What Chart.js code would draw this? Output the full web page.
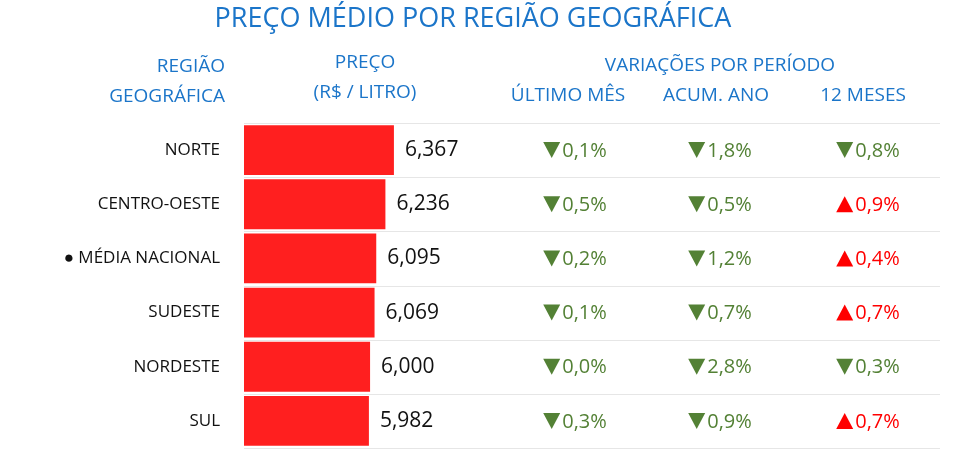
<!DOCTYPE html>
<html><head><meta charset="utf-8">
<script src="https://cdn.jsdelivr.net/npm/chart.js@4/dist/chart.umd.min.js"></script>
<style>html,body{margin:0;padding:0;background:#fff}#w{width:964px;height:474px}</style>
</head><body><div id="w"><canvas id="c"></canvas></div>
<script>
const categories = ["NORTE","CENTRO-OESTE","● MÉDIA NACIONAL","SUDESTE","NORDESTE","SUL"];
const prices = [6.367,6.236,6.095,6.069,6.000,5.982];
const priceLabels = ["6,367","6,236","6,095","6,069","6,000","5,982"];
const varMes = ["▼0,1%","▼0,5%","▼0,2%","▼0,1%","▼0,0%","▼0,3%"];
const varAno = ["▼1,8%","▼0,5%","▼1,2%","▼0,7%","▼2,8%","▼0,9%"];
const var12 = ["▼0,8%","▲0,9%","▲0,4%","▲0,7%","▼0,3%","▲0,7%"];
const BLUE="#1b75c9", GREEN="#538135", RED="#ff0000";
const FONT="'Open Sans', sans-serif";

const overlay = {
  id:'overlay',
  afterDraw(chart){
    const ctx=chart.ctx, ca=chart.chartArea, y=chart.scales.y, x=chart.scales.x;
    ctx.save();
    ctx.strokeStyle="#e6e6e6"; ctx.lineWidth=1;
    const step=(ca.bottom-ca.top)/categories.length;
    for(let i=0;i<=categories.length;i++){
      const yy=Math.round(ca.top+i*step)+0.5;
      ctx.beginPath(); ctx.moveTo(ca.left,yy); ctx.lineTo(940,yy); ctx.stroke();
    }
    ctx.textBaseline="middle";
    ctx.fillStyle=BLUE; ctx.textAlign="center";
    ctx.font="27px "+FONT; ctx.fillText("PREÇO MÉDIO POR REGIÃO GEOGRÁFICA",473,19);
    ctx.font="19px "+FONT;
    ctx.textAlign="right"; ctx.fillText("REGIÃO",225,67); ctx.fillText("GEOGRÁFICA",225,97);
    ctx.textAlign="center"; ctx.fillText("PREÇO",365,63); ctx.fillText("(R$ / LITRO)",365,93);
    ctx.fillText("VARIAÇÕES POR PERÍODO",720,66);
    ctx.fillText("ÚLTIMO MÊS",568,96); ctx.fillText("ACUM. ANO",716,96); ctx.fillText("12 MESES",863,96);
    categories.forEach((c,i)=>{
      const yc=y.getPixelForValue(i);
      ctx.font="17px "+FONT; ctx.fillStyle="#111"; ctx.textAlign="right";
      ctx.fillText(c,220,yc);
      ctx.font="21px "+FONT; ctx.textAlign="left";
      ctx.fillText(priceLabels[i],x.getPixelForValue(prices[i])+11,yc);
      [[varMes,575],[varAno,720],[var12,868]].forEach(([arr,cx])=>{
        const s=arr[i], sym=s[0], num=s.slice(1);
        ctx.fillStyle=sym==="▲"?RED:GREEN;
        ctx.font="20px "+FONT; const nw=ctx.measureText(num).width;
        const tw=17, left=cx-(tw+2+nw)/2;
        ctx.beginPath();
        if(sym==="▲"){ctx.moveTo(left,yc+8);ctx.lineTo(left+tw,yc+8);ctx.lineTo(left+tw/2,yc-8);}
        else{ctx.moveTo(left,yc-8);ctx.lineTo(left+tw,yc-8);ctx.lineTo(left+tw/2,yc+8);}
        ctx.closePath(); ctx.fill();
        ctx.textAlign="left"; ctx.fillText(num,left+tw+2,yc+1);
      });
    });
    ctx.restore();
  }
};

new Chart(document.getElementById('c'),{
  type:'bar',
  data:{labels:categories,datasets:[{data:prices,backgroundColor:"#ff1f1f",borderWidth:0,barPercentage:0.92,categoryPercentage:1}]},
  options:{
    indexAxis:'y',responsive:true,maintainAspectRatio:false,animation:false,
    layout:{padding:{left:244,right:24,top:123,bottom:26}},
    plugins:{legend:{display:false},tooltip:{enabled:false}},
    scales:{
      x:{display:false,min:4.06,max:14.77},
      y:{display:false}
    }
  },
  plugins:[overlay]
});
</script></body></html>
